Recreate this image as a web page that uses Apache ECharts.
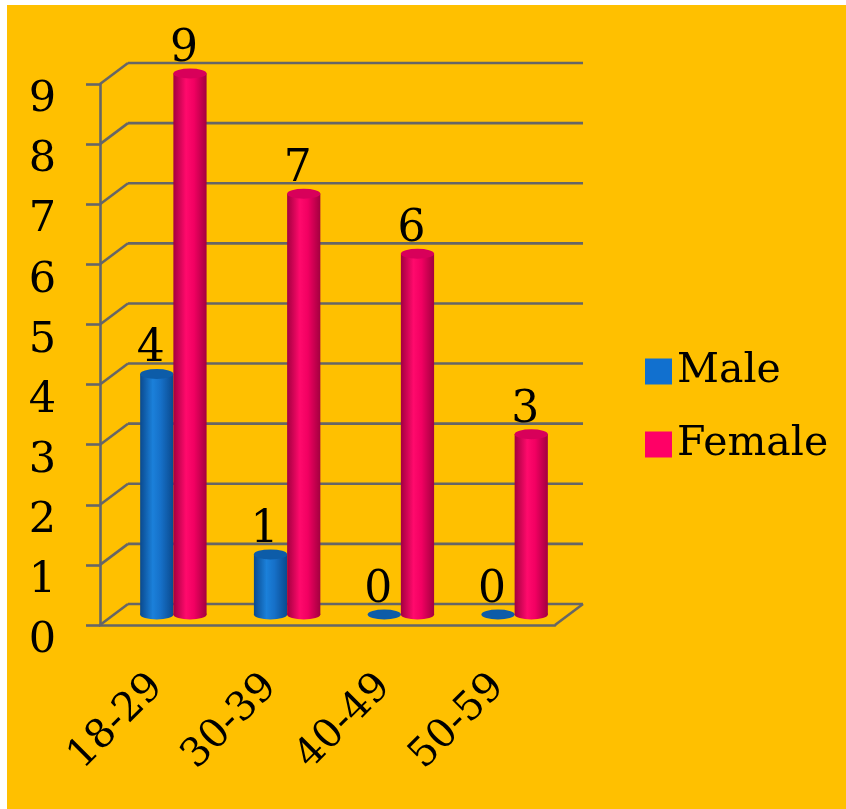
<!DOCTYPE html>
<html>
<head>
<meta charset="utf-8">
<script src="https://cdn.jsdelivr.net/npm/echarts@6/dist/echarts.min.js"></script>
<style>
  html, body { margin: 0; padding: 0; background: #fff; }
  #main { position: absolute; left: 7px; top: 5px; width: 839px; height: 804px; }
</style>
</head>
<body>
<div id="main"></div>
<script>
var categories = ['18-29', '30-39', '40-49', '50-59'];
var male = [4, 1, 0, 0];
var female = [9, 7, 6, 3];
var yTicks = [0, 1, 2, 3, 4, 5, 6, 7, 8, 9];

var FONT = 'DejaVu Serif';
var GRID_COLOR = '#666666';
var DX = 28, DY = -21; // depth offset of the back wall

var chart = echarts.init(document.getElementById('main'));

// back wall + connectors
function renderFrame(params, api) {
    var cs = params.coordSys;
    var v = api.value(1);
    var y = api.coord([0, v])[1];
    var x0 = cs.x, x1 = cs.x + cs.width;
    var ls = { stroke: GRID_COLOR, lineWidth: 2.6 };
    var kids = [
        { type: 'line', shape: { x1: x0, y1: y, x2: x0 + DX, y2: y + DY }, style: ls },
        { type: 'line', shape: { x1: x0 + DX, y1: y + DY, x2: x1 + DX, y2: y + DY }, style: ls }
    ];
    if (v === 0) {
        kids.push({ type: 'line', shape: { x1: x1, y1: y, x2: x1 + DX, y2: y + DY }, style: ls });
    }
    return { type: 'group', children: kids };
}

var looks = [
    { body: ['#0a4a8e', '#1b80da', '#1670c8', '#0a4a8e'], top: '#0d5ca8', side: -1 },
    { body: ['#a3003f', '#ff0a6c', '#f20062', '#a3003f'], top: '#d8005a', side: 1 }
];

function makeCylinder(look) {
    return function (params, api) {
        var idx = api.value(0), v = api.value(1);
        var base = api.coord([idx, 0]);
        var top = api.coord([idx, v]);
        var band = api.size([1, 0])[0];
        var bw = band * 0.292;
        var rx = bw / 2, ry = 5;
        var cx = base[0] + DX / 2 + 2.5 + look.side * bw / 2;
        var by = base[1] + DY / 2;
        var ty = top[1] + DY / 2;
        var grad = new echarts.graphic.LinearGradient(0, 0, 1, 0, [
            { offset: 0, color: look.body[0] },
            { offset: 0.38, color: look.body[1] },
            { offset: 0.62, color: look.body[2] },
            { offset: 1, color: look.body[3] }
        ]);
        var kids = [];
        if (v > 0) {
            kids.push({ type: 'circle', shape: { cx: 0, cy: 0, r: rx }, x: cx, y: by, scaleY: ry / rx, style: { fill: grad } });
            kids.push({ type: 'rect', shape: { x: cx - rx, y: ty, width: bw, height: by - ty }, style: { fill: grad } });
        }
        kids.push({ type: 'circle', shape: { cx: 0, cy: 0, r: rx }, x: cx, y: ty, scaleY: ry / rx, style: { fill: look.top } });
        kids.push({
            type: 'text', x: cx - 6, y: ty - ry + 3,
            style: { text: String(v), font: '44px "' + FONT + '"', fill: '#000', align: 'center', verticalAlign: 'bottom' }
        });
        return { type: 'group', children: kids };
    };
}

chart.setOption({
    backgroundColor: '#ffc000',
    animation: false,
    grid: { left: 93, right: 291, top: 79, bottom: 184 },
    legend: {
        data: ['Male', 'Female'],
        orient: 'vertical',
        left: 633,
        top: 341,
        itemWidth: 27,
        itemHeight: 26,
        itemGap: 32,
        icon: 'rect',
        textStyle: { fontFamily: FONT, fontSize: 41, color: '#000' }
    },
    xAxis: {
        type: 'category',
        data: categories,
        axisLine: { lineStyle: { color: GRID_COLOR, width: 2.6 } },
        axisTick: { length: 14, lineStyle: { color: GRID_COLOR, width: 2.6 } },
        axisLabel: { rotate: 45, margin: 56, fontFamily: FONT, fontSize: 40, color: '#000' },
        splitLine: { show: false }
    },
    yAxis: {
        type: 'value',
        min: 0, max: 9, interval: 1,
        axisLine: { show: true, lineStyle: { color: GRID_COLOR, width: 2.6 } },
        axisTick: { show: true, length: 14, lineStyle: { color: GRID_COLOR, width: 2.6 } },
        axisLabel: { margin: 44, fontFamily: FONT, fontSize: 43, color: '#000', verticalAlign: 'top', lineHeight: 32 },
        splitLine: { show: false }
    },
    series: [
        {
            name: 'frame', type: 'custom', z: 1, silent: true,
            renderItem: renderFrame,
            encode: { x: 0, y: 1 },
            data: yTicks.map(function (v) { return [0, v]; })
        },
        {
            name: 'Male', type: 'custom', z: 3,
            itemStyle: { color: '#1170cf' },
            renderItem: makeCylinder(looks[0]),
            encode: { x: 0, y: 1 },
            data: male.map(function (v, i) { return [i, v]; })
        },
        {
            name: 'Female', type: 'custom', z: 4,
            itemStyle: { color: '#ff0066' },
            renderItem: makeCylinder(looks[1]),
            encode: { x: 0, y: 1 },
            data: female.map(function (v, i) { return [i, v]; })
        }
    ]
});
</script>
</body>
</html>
